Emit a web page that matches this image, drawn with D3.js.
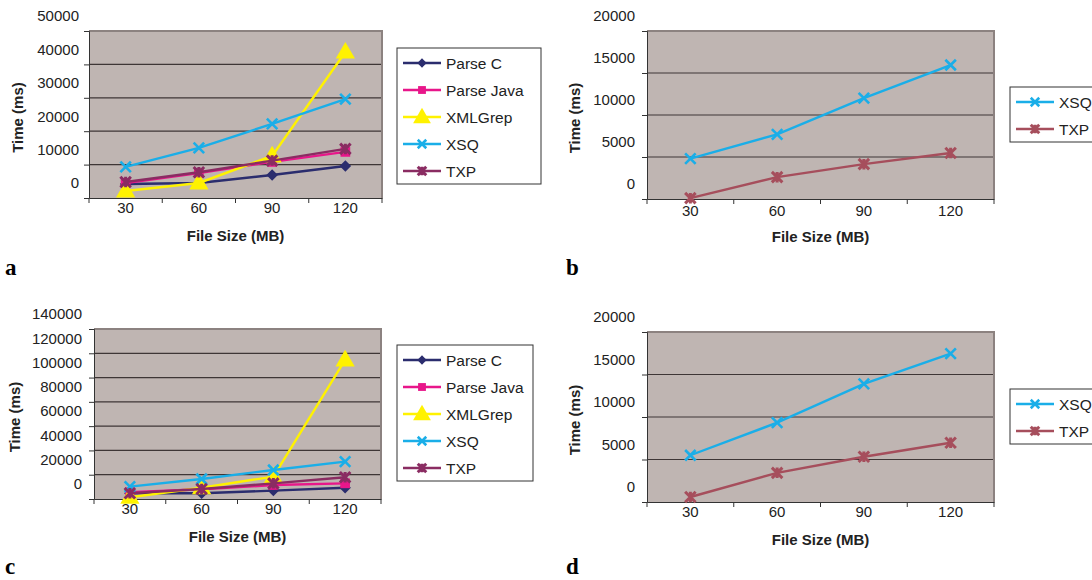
<!DOCTYPE html>
<html lang="en">
<head>
<meta charset="UTF-8">
<title>Time vs File Size</title>
<script src="https://d3js.org/d3.v7.min.js"></script>
<style>
  body { margin: 0; background: #fff; }
  svg { font-family: "Liberation Sans", Arial, sans-serif; }
</style>
</head>
<body>
<svg width="1092" height="580"></svg>
<script>
// categories on the x axis (file size in MB)
const categories = [30, 60, 90, 120];

// panel a
const parseC_a = [4200, 4500, 6900, 9600];
const parseJava_a = [4500, 7500, 10800, 13800];
const xmlGrep_a = [2100, 4500, 12600, 43700];
const xsq_a = [9300, 15000, 22200, 29600];
const txp_a = [4800, 7700, 11200, 14700];
const yTicks_a = [0, 10000, 20000, 30000, 40000, 50000];

// panel b
const xsq_b = [4800, 7700, 12000, 15950];
const txp_b = [100, 2600, 4150, 5480];
const yTicks_b = [0, 5000, 10000, 15000, 20000];

// panel c
const parseC_c = [4700, 4700, 6900, 9300];
const parseJava_c = [5500, 8000, 11500, 12900];
const xmlGrep_c = [1400, 9300, 18400, 114500];
const xsq_c = [10200, 16500, 23900, 30800];
const txp_c = [4700, 8250, 12900, 17900];
const yTicks_c = [0, 20000, 40000, 60000, 80000, 100000, 120000, 140000];

// panel d
const xsq_d = [5500, 9330, 13900, 17450];
const txp_d = [590, 3430, 5320, 6970];
const yTicks_d = [0, 5000, 10000, 15000, 20000];

const seriesNames = ["Parse C", "Parse Java", "XMLGrep", "XSQ", "TXP"];

const style = {
  "Parse C": { color: "#2b2d6e", marker: "diamond" },
  "Parse Java": { color: "#e8168a", marker: "square" },
  "XMLGrep": { color: "#fff200", marker: "triangle" },
  "XSQ": { color: "#1aaee8", marker: "x" },
  "TXP": { color: "#8a2c62", marker: "star" }
};
const txpSmall = "#a64e5c";

const svg = d3.select("svg");

// marker shapes
function drawMarker(g, type, color, x, y, s) {
  if (type === "diamond") {
    g.append("path").attr("d", d3.symbol(d3.symbolSquare, s * s * 0.6)())
      .attr("transform", `translate(${x},${y}) rotate(45)`).attr("fill", color);
  } else if (type === "square") {
    g.append("path").attr("d", d3.symbol(d3.symbolSquare, s * s * 0.85)())
      .attr("transform", `translate(${x},${y})`).attr("fill", color);
  } else if (type === "triangle") {
    g.append("path").attr("d", d3.symbol(d3.symbolTriangle, s * s * 0.95)())
      .attr("transform", `translate(${x},${y + 1})`).attr("fill", color);
  } else {
    const r = s / 2;
    let d = `M${x - r},${y - r}L${x + r},${y + r}M${x - r},${y + r}L${x + r},${y - r}`;
    if (type === "star") d += `M${x},${y - r}L${x},${y + r}`;
    g.append("path").attr("d", d).attr("stroke", color)
      .attr("stroke-width", type === "star" ? 3 : 2.6).attr("fill", "none");
  }
}

function drawPanel(p) {
  const g = svg.append("g");
  const x = d3.scaleBand().domain(categories).range([p.left, p.right]);
  const y = d3.scaleLinear().domain([0, d3.max(p.ticks)]).range([p.bottom, p.top]);

  g.append("rect")
    .attr("x", p.left).attr("y", p.top)
    .attr("width", p.right - p.left).attr("height", p.bottom - p.top)
    .attr("fill", "#bfb5b2");

  // gridlines
  g.selectAll(".grid").data(p.ticks.slice(1, -1)).join("line")
    .attr("x1", p.left).attr("x2", p.right)
    .attr("y1", d => y(d)).attr("y2", d => y(d))
    .attr("stroke", "#3e3636").attr("stroke-width", 1.2);

  // top / right frame
  g.append("path")
    .attr("d", `M${p.left},${p.top}H${p.right}V${p.bottom}`)
    .attr("fill", "none").attr("stroke", "#8c8280").attr("stroke-width", 2);

  // y axis, labels sit half a step above their gridline as in the original
  const ya = g.append("g").attr("transform", `translate(${p.left},0)`)
    .call(d3.axisLeft(y).tickValues(p.ticks).tickSize(5).tickPadding(p.pad).tickFormat(d3.format("d")));
  ya.select(".domain").attr("stroke", "#333");
  ya.selectAll(".tick line").attr("stroke", "#333");
  ya.selectAll("text").attr("y", -15).style("font-size", "15px")
    .style("font-family", "Liberation Sans, Arial, sans-serif").attr("fill", "#222");

  // x axis: labels at band centres, ticks at band edges
  const xa = g.append("g").attr("transform", `translate(0,${p.bottom})`)
    .call(d3.axisBottom(x).tickSize(0).tickPadding(p.xpad));
  xa.select(".domain").attr("stroke", "#333");
  xa.selectAll("text").style("font-size", "15px")
    .style("font-family", "Liberation Sans, Arial, sans-serif").attr("fill", "#222");
  const edges = categories.map(c => x(c)).concat([p.right]);
  g.selectAll(".xtick").data(edges).join("line")
    .attr("x1", d => d).attr("x2", d => d)
    .attr("y1", p.bottom).attr("y2", p.bottom + 5)
    .attr("stroke", "#333");

  // series
  const line = d3.line().x((d, i) => x(categories[i]) + x.bandwidth() / 2).y(d => y(d));
  p.series.forEach(s => {
    g.append("path").datum(s.values).attr("d", line)
      .attr("fill", "none").attr("stroke", s.color).attr("stroke-width", 2.4);
    const mg = g.append("g");
    s.values.forEach((v, i) => drawMarker(mg, s.marker, s.color,
      x(categories[i]) + x.bandwidth() / 2, y(v), s.marker === "triangle" ? 13 : 10.5));
  });

  // axis titles
  g.append("text").attr("x", (p.left + p.right) / 2).attr("y", p.bottom + 43)
    .attr("text-anchor", "middle").style("font-weight", "bold").style("font-size", "15px")
    .attr("fill", "#222").text("File Size (MB)");
  g.append("text")
    .attr("transform", `translate(${p.ytitleX},${(p.top + p.bottom) / 2 + 3}) rotate(-90)`)
    .attr("text-anchor", "middle").style("font-weight", "bold").style("font-size", "15px")
    .attr("fill", "#222").text("Time (ms)");

  // legend
  const L = p.legend;
  const lg = g.append("g");
  lg.append("rect").attr("x", L.x).attr("y", L.y)
    .attr("width", L.w).attr("height", p.series.length * 27 + 1)
    .attr("fill", "#fff").attr("stroke", "#333").attr("stroke-width", 1);
  p.series.forEach((s, i) => {
    const cy = L.y + 15 + i * 27;
    lg.append("line").attr("x1", L.x + 6).attr("x2", L.x + 44)
      .attr("y1", cy).attr("y2", cy).attr("stroke", s.color).attr("stroke-width", 2.6);
    drawMarker(lg, s.marker, s.color, L.x + 25, cy, s.marker === "triangle" ? 12 : 8.5);
    lg.append("text").attr("x", L.x + 49).attr("y", cy).attr("dy", "0.36em")
      .style("font-size", "15.5px").attr("fill", "#222").text(s.name);
  });

  // panel letter
  svg.append("text").attr("x", p.letterX).attr("y", p.letterY)
    .style("font-family", "Liberation Serif, Times New Roman, serif")
    .style("font-weight", "bold").style("font-size", "23px").text(p.id);
}

function makeSeries(names, values, txpColor) {
  return names.map((n, i) => ({
    name: n, values: values[i], marker: style[n].marker,
    color: n === "TXP" && txpColor ? txpColor : style[n].color
  }));
}

drawPanel({
  id: "a", left: 89, right: 382, top: 31, bottom: 198, ticks: yTicks_a, pad: 5, xpad: 4, ytitleX: 23,
  series: makeSeries(seriesNames, [parseC_a, parseJava_a, xmlGrep_a, xsq_a, txp_a]),
  legend: { x: 397, y: 48, w: 144 }, letterX: 5, letterY: 275
});
drawPanel({
  id: "b", left: 647, right: 994, top: 31, bottom: 199, ticks: yTicks_b, pad: 7, xpad: 6, ytitleX: 580,
  series: makeSeries(["XSQ", "TXP"], [xsq_b, txp_b], txpSmall),
  legend: { x: 1010, y: 87, w: 100 }, letterX: 566, letterY: 275
});
drawPanel({
  id: "c", left: 94, right: 381, top: 329, bottom: 499, ticks: yTicks_c, pad: 7, xpad: 4, ytitleX: 20,
  series: makeSeries(seriesNames, [parseC_c, parseJava_c, xmlGrep_c, xsq_c, txp_c]),
  legend: { x: 397, y: 345, w: 136 }, letterX: 5, letterY: 574
});
drawPanel({
  id: "d", left: 647, right: 994, top: 332, bottom: 502, ticks: yTicks_d, pad: 7, xpad: 4, ytitleX: 580,
  series: makeSeries(["XSQ", "TXP"], [xsq_d, txp_d], txpSmall),
  legend: { x: 1010, y: 389, w: 100 }, letterX: 566, letterY: 574
});
</script>
</body>
</html>
